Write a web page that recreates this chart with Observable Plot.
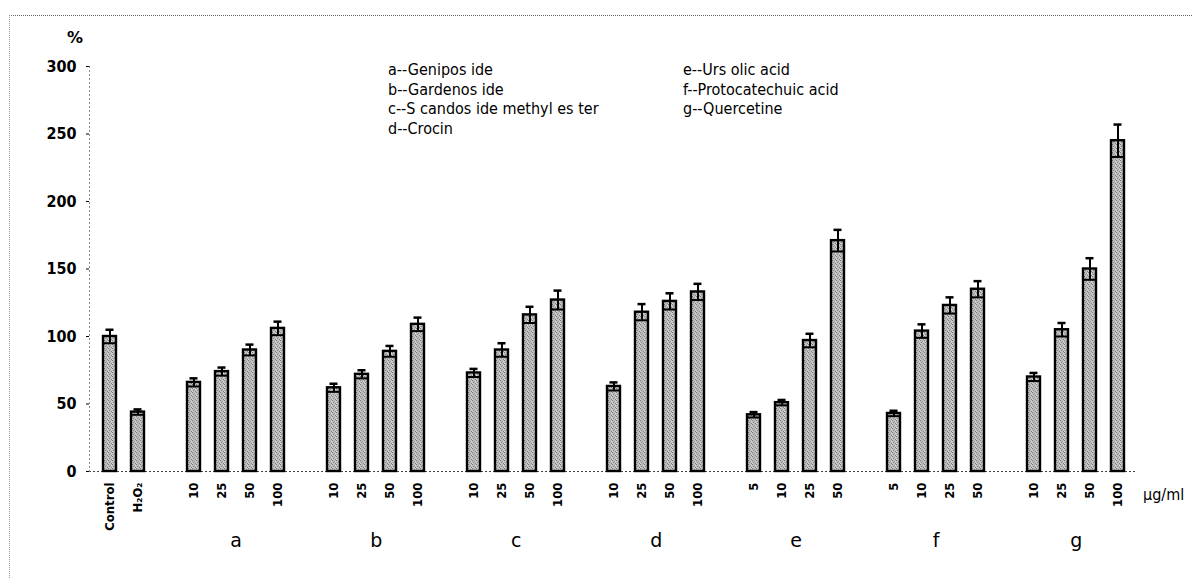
<!DOCTYPE html>
<html><head><meta charset="utf-8">
<script src="https://cdn.jsdelivr.net/npm/d3@7"></script>
<script src="https://cdn.jsdelivr.net/npm/@observablehq/plot@0.6"></script>
<style>
body{margin:0;background:#fff;}
#wrap{position:relative;width:1192px;height:578px;overflow:hidden;background:#fff;}
#border{position:absolute;left:9px;top:15px;width:1200px;height:600px;border-top:1px dotted #666;border-left:1px dotted #999;}
.lg{position:absolute;font-family:"DejaVu Sans Condensed","DejaVu Sans",sans-serif;font-size:16px;line-height:19.5px;color:#000;white-space:pre;}
#chart{position:absolute;left:0;top:0;}
</style></head>
<body><div id="wrap"><div id="border"></div><div id="chart"></div>
<div class="lg" style="left:388px;top:60px;" id="legL"></div>
<div class="lg" style="left:683px;top:60px;" id="legR"></div>
<div class="lg" style="left:67px;top:28px;font-family:'DejaVu Sans';font-weight:bold;font-size:16px;">%</div>
<div class="lg" style="left:1143px;top:485px;font-size:16px;">µg/ml</div>
</div>
<script>
// ---- data ----
const controlLabels = ["Control", "H₂O₂"];
const controlValues = [100, 44];
const controlErrors = [5, 2];

const groups = ["a", "b", "c", "d", "e", "f", "g"];
const groupNames = ["a--Genipos ide", "b--Gardenos ide", "c--S candos ide methyl es ter", "d--Crocin",
                    "e--Urs olic acid", "f--Protocatechuic acid", "g--Quercetine"];
const doses = {
  a: ["10", "25", "50", "100"],
  b: ["10", "25", "50", "100"],
  c: ["10", "25", "50", "100"],
  d: ["10", "25", "50", "100"],
  e: ["5", "10", "25", "50"],
  f: ["5", "10", "25", "50"],
  g: ["10", "25", "50", "100"]
};
const meanA = [66, 74, 90, 106];
const meanB = [62, 72, 89, 109];
const meanC = [73, 90, 116, 127];
const meanD = [63, 118, 126, 133];
const meanE = [42, 51, 97, 171];
const meanF = [43, 104, 123, 135];
const meanG = [70, 105, 150, 245];
const errA = [3, 3, 4, 5];
const errB = [3, 3, 4, 5];
const errC = [3, 5, 6, 7];
const errD = [3, 6, 6, 6];
const errE = [2, 2, 5, 8];
const errF = [2, 5, 6, 6];
const errG = [3, 5, 8, 12];
const yTicks = [0, 50, 100, 150, 200, 250, 300];

// ---- build table ----
const means = {a: meanA, b: meanB, c: meanC, d: meanD, e: meanE, f: meanF, g: meanG};
const errs = {a: errA, b: errB, c: errC, d: errD, e: errE, f: errF, g: errG};
const slotKeys = [];
const labelOf = new Map();
const rows = [];
controlLabels.forEach((l, i) => {
  const k = "ctl" + i;
  slotKeys.push(k); labelOf.set(k, l);
  rows.push({key: k, value: controlValues[i], err: controlErrors[i]});
});
const groupRows = [];
groups.forEach((g, gi) => {
  slotKeys.push("gap" + gi);
  doses[g].forEach((d, i) => {
    const k = g + d;
    slotKeys.push(k); labelOf.set(k, d);
    rows.push({key: k, value: means[g][i], err: errs[g][i]});
  });
  groupRows.push({key: g + doses[g][1], group: g});
});

const W = 1192, H = 578, mL = 89, mR = 55, mT = 66, mB = 107;
const step = (W - mL - mR) / slotKeys.length;

const plot = Plot.plot({
  width: W, height: H,
  marginLeft: mL, marginRight: mR, marginTop: mT, marginBottom: mB,
  style: {background: "transparent", fontFamily: "'DejaVu Sans Condensed','DejaVu Sans',sans-serif", color: "#000"},
  x: {domain: slotKeys, paddingInner: 0.54, paddingOuter: 0.27},
  y: {domain: [0, 300]},
  marks: [
    Plot.ruleY([0], {stroke: "#444", strokeDasharray: "2,2", strokeWidth: 1}),
    Plot.frame({anchor: "left", stroke: "#888", strokeDasharray: "1,3"}),
    Plot.axisY({ticks: yTicks, tickSize: 3, tickPadding: 10, fontSize: 16, fontWeight: "bold", label: null,
                fontFamily: "'DejaVu Sans Condensed','DejaVu Sans',sans-serif"}),
    Plot.axisX({tickSize: 0, tickPadding: 11, tickRotate: -90, fontSize: 13, fontWeight: "bold", label: null,
                tickFormat: k => labelOf.get(k) || ""}),
    Plot.barY(rows, {x: "key", y: "value", fill: "url(#stip)", stroke: "#000", strokeWidth: 2.4}),
    Plot.ruleX(rows, {x: "key", y1: d => d.value - d.err, y2: d => d.value + d.err, stroke: "#000", strokeWidth: 2}),
    Plot.tickY(rows, {x: "key", y: d => d.value + d.err, stroke: "#000", strokeWidth: 2.5, insetLeft: 2.5, insetRight: 2.5}),
    Plot.tickY(rows, {x: "key", y: d => d.value - d.err, stroke: "#000", strokeWidth: 2}),
    Plot.text(groupRows, {x: "key", text: "group", frameAnchor: "bottom", dx: step / 2, dy: 75, fontSize: 19,
                          fontFamily: "'DejaVu Sans','Noto Sans',sans-serif"})
  ]
});

// stipple texture for bars
const svg = d3.select(plot);
const defs = svg.insert("defs", ":first-child");
const pat = defs.append("pattern").attr("id", "stip").attr("patternUnits", "userSpaceOnUse")
  .attr("width", 4).attr("height", 4);
pat.append("rect").attr("width", 4).attr("height", 4).attr("fill", "#bebebe");
[[0,0,"#7a7a7a"],[2,1,"#909090"],[1,2,"#888"],[3,3,"#808080"],[3,1,"#dcdcdc"],[0,3,"#d4d4d4"]].forEach(([x,y,c]) =>
  pat.append("rect").attr("x", x).attr("y", y).attr("width", 1).attr("height", 1).attr("fill", c));

document.getElementById("chart").appendChild(plot);
document.getElementById("legL").textContent = groupNames.slice(0, 4).join("\n");
document.getElementById("legR").textContent = groupNames.slice(4).join("\n");
</script>
</body></html>
